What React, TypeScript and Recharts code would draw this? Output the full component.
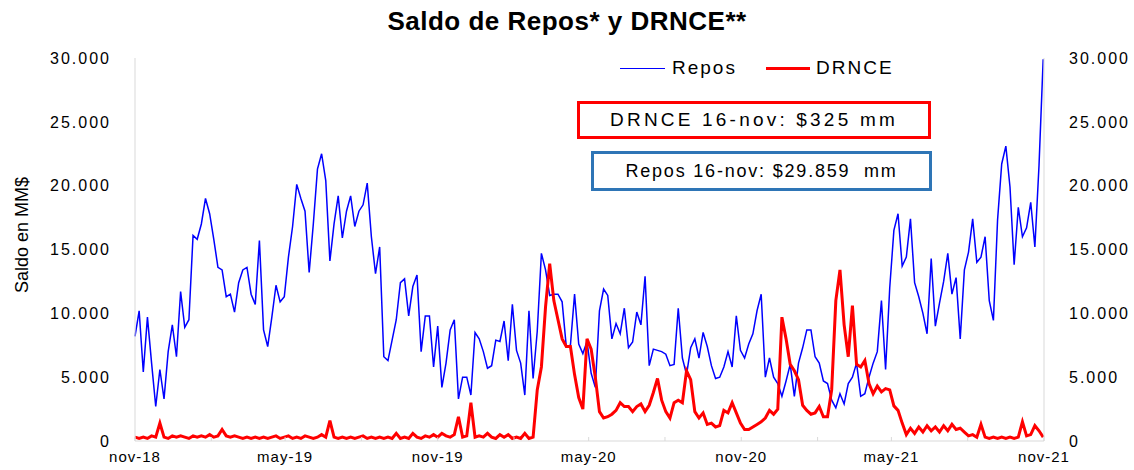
import { Line, LineChart, XAxis, YAxis } from 'recharts';

// Saldos en miles de MM$, muestreados cada 5 días desde el 1-nov-18
const repos = [
  8.2, 10.2, 5.4, 9.7, 6.1, 2.7, 5.6, 3.3, 7.0, 9.1,
  6.6, 11.7, 8.9, 9.5, 16.1, 15.8, 17.0, 19.0, 17.8, 15.8,
  13.6, 13.4, 11.3, 11.5, 10.1, 12.4, 13.4, 13.6, 11.5, 10.7,
  15.7, 8.7, 7.4, 9.7, 12.2, 10.9, 11.3, 14.4, 16.8, 20.1,
  19.0, 18.0, 13.2, 17.0, 21.3, 22.5, 20.4, 14.1, 17.0, 19.2,
  15.9, 18.0, 19.2, 16.8, 18.0, 18.5, 20.2, 16.0, 13.1, 15.2,
  6.6, 6.3, 7.9, 9.5, 12.4, 12.7, 9.8, 12.1, 13.0, 7.0,
  9.8, 9.8, 5.8, 9.0, 4.2, 6.1, 8.7, 9.5, 3.3, 5.0,
  5.0, 3.6, 8.5, 8.0, 7.0, 5.7, 5.9, 7.9, 7.8, 9.4,
  6.3, 10.7, 7.1, 6.1, 3.6, 10.2, 4.9, 8.6, 14.7, 13.4,
  11.4, 11.5, 11.5, 10.9, 7.4, 7.5, 11.5, 7.6, 6.85, 7.8,
  5.3, 4.2, 10.2, 11.9, 11.4, 8.0, 9.2, 8.4, 10.4, 7.3,
  7.75, 10.1, 9.1, 12.9, 5.9, 7.2, 7.1, 7.0, 6.8, 5.9,
  6.0, 10.4, 6.5, 5.2, 7.3, 8.0, 6.5, 8.5, 7.4, 5.9,
  4.9, 5.0, 5.8, 7.0, 5.8, 9.8, 7.1, 6.5, 7.6, 8.4,
  10.2, 11.5, 5.0, 6.5, 5.0, 4.5, 3.5, 4.7, 6.0, 3.5,
  6.1, 7.3, 8.7, 8.7, 6.6, 6.1, 4.7, 4.5, 3.2, 2.6,
  3.7, 2.9, 4.5, 5.0, 6.1, 3.5, 3.7, 5.0, 6.1, 7.0,
  11.0, 5.6, 12.0, 16.5, 17.8, 13.7, 14.4, 17.4, 12.4, 11.3,
  10.0, 8.4, 14.3, 9.0, 10.8, 12.5, 14.7, 11.5, 12.8, 8.0,
  13.4, 14.8, 17.4, 14.0, 14.4, 16.0, 11.0, 9.45, 17.3, 21.7,
  23.1, 19.9, 13.8, 18.3, 16.0, 16.7, 18.7, 15.2, 21.6, 29.9,
];

const drnce = [
  0.3, 0.2, 0.3, 0.2, 0.4, 0.3, 1.4, 0.3, 0.2, 0.4,
  0.3, 0.4, 0.3, 0.2, 0.4, 0.3, 0.4, 0.3, 0.5, 0.3,
  0.4, 0.9, 0.4, 0.3, 0.4, 0.3, 0.2, 0.3, 0.2, 0.3,
  0.2, 0.3, 0.2, 0.3, 0.4, 0.2, 0.3, 0.4, 0.2, 0.3,
  0.2, 0.4, 0.3, 0.2, 0.3, 0.5, 0.3, 1.6, 0.3, 0.2,
  0.3, 0.2, 0.3, 0.2, 0.3, 0.4, 0.2, 0.3, 0.2, 0.3,
  0.2, 0.3, 0.2, 0.6, 0.2, 0.3, 0.2, 0.6, 0.3, 0.2,
  0.4, 0.3, 0.5, 0.3, 0.6, 0.4, 0.3, 0.5, 1.9, 0.3,
  0.4, 3.0, 0.3, 0.4, 0.3, 0.6, 0.3, 0.2, 0.5, 0.3,
  0.5, 0.2, 0.3, 0.2, 0.6, 0.2, 0.3, 4.0, 5.8, 10.5,
  13.9, 11.0, 9.5, 8.0, 7.4, 7.4, 5.2, 3.4, 2.5, 8.0,
  7.2, 5.0, 2.3, 1.8, 1.9, 2.1, 2.4, 3.0, 2.7, 2.7,
  2.3, 2.7, 2.9, 2.3, 2.8, 3.8, 4.9, 3.2, 2.3, 1.8,
  3.0, 3.2, 3.0, 5.5, 4.8, 2.3, 1.8, 2.2, 1.3, 1.4,
  1.1, 1.2, 2.4, 2.2, 3.0, 2.2, 1.4, 0.9, 0.9, 1.1,
  1.3, 1.5, 1.8, 2.4, 2.1, 2.5, 9.7, 8.0, 6.0, 5.5,
  4.8, 2.8, 2.4, 2.1, 2.2, 2.7, 1.9, 1.9, 4.0, 11.0,
  13.4, 9.1, 6.6, 10.6, 6.0, 5.8, 6.3, 4.5, 3.7, 4.3,
  3.85, 4.1, 4.0, 2.75, 2.4, 1.4, 0.5, 1.0, 0.6, 1.1,
  0.7, 1.2, 0.8, 1.1, 0.7, 1.2, 0.8, 1.3, 0.9, 1.0,
  0.7, 0.4, 0.5, 0.3, 1.3, 0.3, 0.2, 0.3, 0.2, 0.3,
  0.2, 0.3, 0.2, 0.3, 1.5, 0.4, 0.5, 1.2, 0.8, 0.3,
];

// días desde 1-nov-18 de cada marca trimestral del eje X
const tickDays = [0, 92, 181, 273, 365, 457, 547, 639, 731, 823, 912, 1004, 1096];
const tickLabels = ['nov-18', '', 'may-19', '', 'nov-19', '', 'may-20', '', 'nov-20', '', 'may-21', '', 'nov-21'];
const yTicks = [0, 5, 10, 15, 20, 25, 30];

const data = repos.map((v, i) => ({ day: i * 5, repos: v, drnce: drnce[i] }));

const FONT = '"Liberation Sans", Arial, sans-serif';

const fmtY = (v: number) => (v === 0 ? '0' : `${v}.000`);

function XTick(props: any) {
  const { x, y, payload, index } = props;
  return (
    <g>
      <line x1={x} x2={x} y1={y} y2={y - 4} stroke="#d9d9d9" />
      <text x={x} y={y + 21} textAnchor="middle" fontSize={15} fill="#000" fontFamily={FONT} letterSpacing={1}>
        {tickLabels[index] ?? payload.value}
      </text>
    </g>
  );
}

export default function App() {
  return (
    <div style={{ position: 'absolute', left: 0, top: 0, width: 1134, height: 470, background: '#fff', fontFamily: FONT }}>
      <div style={{ position: 'absolute', left: 0, width: 1134, top: 6, textAlign: 'center', fontWeight: 'bold', fontSize: 26, letterSpacing: 0.5, lineHeight: '30px' }}>
        Saldo de Repos* y DRNCE**
      </div>
      <LineChart width={1134} height={470} data={data} margin={{ top: 58, right: 0, left: 0, bottom: 0 }}>
        <XAxis
          dataKey="day"
          type="number"
          domain={[0, 1096]}
          ticks={tickDays}
          interval={0}
          height={29}
          tickSize={0}
          tickMargin={0}
          stroke="#d9d9d9"
          tick={<XTick />}
        />
        <YAxis
          yAxisId="left"
          orientation="left"
          domain={[0, 30]}
          ticks={yTicks}
          width={135}
          tickLine={false}
          tickMargin={18}
          stroke="#d9d9d9"
          tickFormatter={fmtY}
          tick={{ fill: '#000', fontSize: 16, fontFamily: FONT, letterSpacing: 2 }}
        />
        <YAxis
          yAxisId="right"
          orientation="right"
          domain={[0, 30]}
          ticks={yTicks}
          width={90}
          tickLine={false}
          tickMargin={19}
          stroke="#d9d9d9"
          tickFormatter={fmtY}
          tick={{ fill: '#000', fontSize: 16, fontFamily: FONT, letterSpacing: 2 }}
        />
        <Line
          yAxisId="left"
          type="linear"
          dataKey="repos"
          name="Repos"
          stroke="#0000ff"
          strokeWidth={1.5}
          dot={false}
          isAnimationActive={false}
        />
        <Line
          yAxisId="right"
          type="linear"
          dataKey="drnce"
          name="DRNCE"
          stroke="#ff0000"
          strokeWidth={3}
          dot={false}
          isAnimationActive={false}
        />
      </LineChart>
      <div style={{ position: 'absolute', left: 12, top: 235, width: 0, height: 0 }}>
        <div
          style={{
            position: 'absolute', left: -60, top: -11, width: 140, textAlign: 'center',
            transform: 'rotate(-90deg)', fontFamily: '"Liberation Sans Narrow", "Liberation Sans", sans-serif',
            fontSize: 18, lineHeight: '22px', whiteSpace: 'nowrap',
          }}
        >
          Saldo en MM$
        </div>
      </div>
      <div style={{ position: 'absolute', left: 620, top: 57, height: 22, fontSize: 19, letterSpacing: 2, lineHeight: '22px' }}>
        <span style={{ position: 'absolute', left: 0, top: 11, width: 45, borderTop: '1.5px solid #0000ff' }} />
        <span style={{ position: 'absolute', left: 52, top: 0 }}>Repos</span>
        <span style={{ position: 'absolute', left: 146, top: 10, width: 44, borderTop: '3px solid #ff0000' }} />
        <span style={{ position: 'absolute', left: 196, top: 0 }}>DRNCE</span>
      </div>
      <div
        style={{
          position: 'absolute', left: 577, top: 101, width: 348, height: 32,
          border: '3px solid #ff0000', display: 'flex', alignItems: 'center', justifyContent: 'center',
          fontSize: 19, letterSpacing: 3.2, background: '#fff', whiteSpace: 'nowrap',
        }}
      >
        DRNCE 16-nov:&nbsp;$325&nbsp;mm
      </div>
      <div
        style={{
          position: 'absolute', left: 591, top: 151, width: 335, height: 34,
          border: '3px solid #2e75b6', display: 'flex', alignItems: 'center', justifyContent: 'center',
          fontSize: 18, letterSpacing: 1.8, background: '#fff', whiteSpace: 'nowrap',
        }}
      >
        Repos 16-nov: $29.859&nbsp;&nbsp;mm
      </div>
    </div>
  );
}
